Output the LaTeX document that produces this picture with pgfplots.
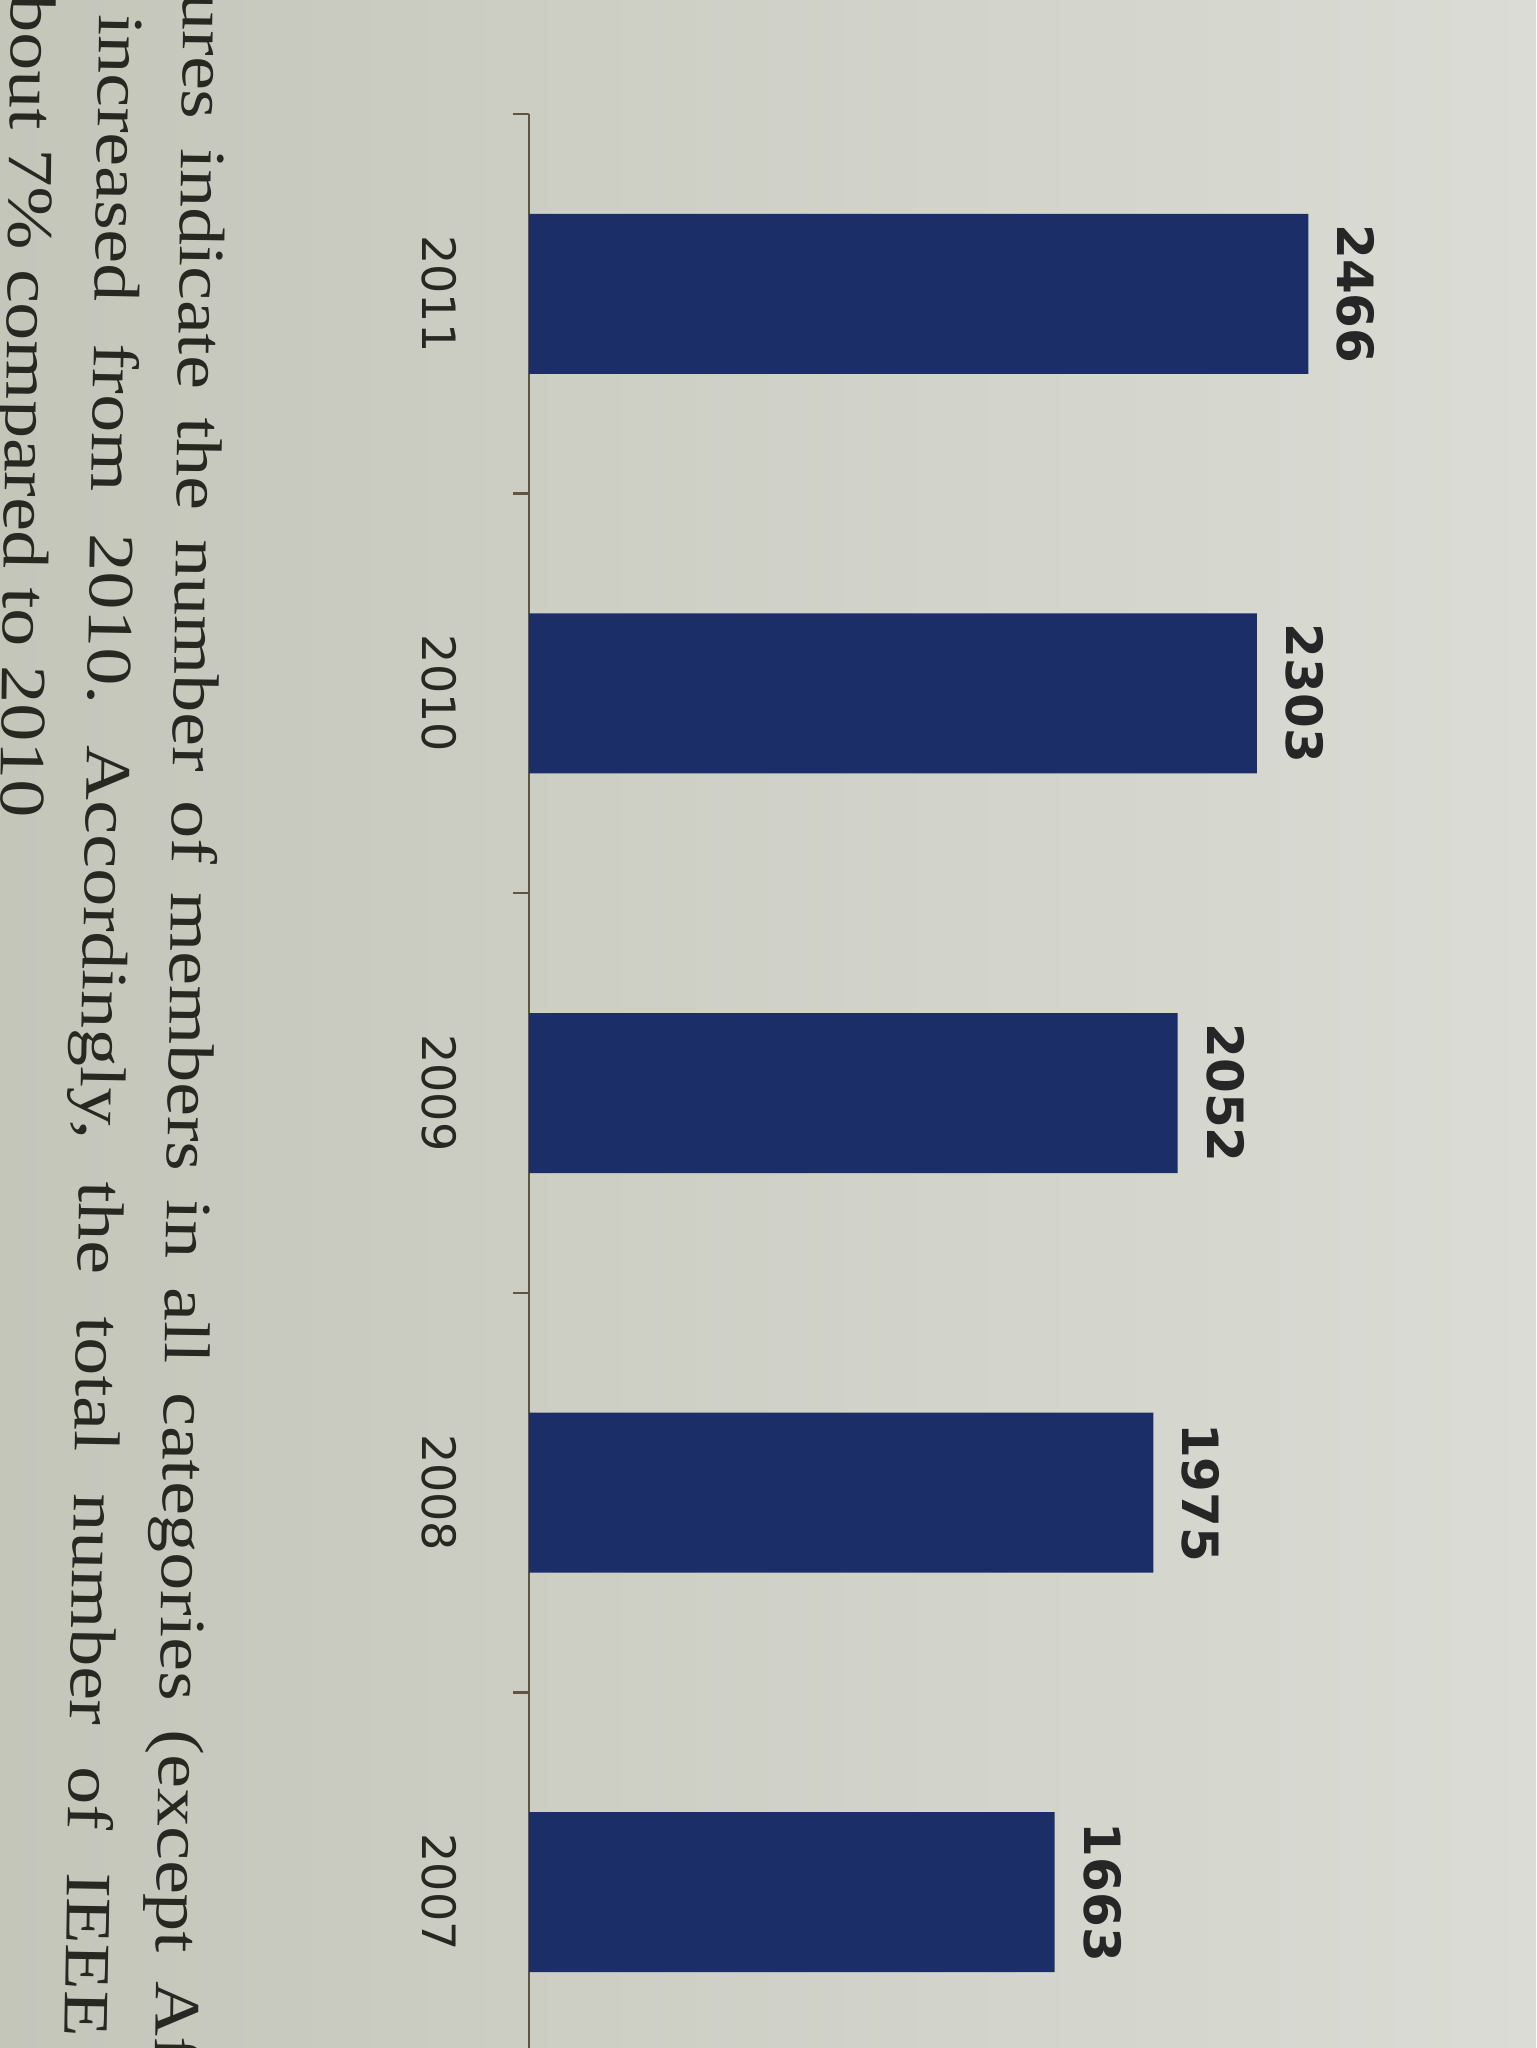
\documentclass[border=0pt]{standalone}
\usepackage{fontspec}
\setmainfont{Liberation Serif}
\newfontfamily\labelfont{DejaVu Sans}
\usepackage{pgfplots}
\pgfplotsset{compat=1.18}

\definecolor{paperL}{RGB}{197,198,186}
\definecolor{paperR}{RGB}{218,220,213}
\definecolor{barblue}{RGB}{28,46,104}
\definecolor{ink}{RGB}{40,40,34}
\definecolor{axisline}{RGB}{95,85,65}

\begin{document}
\frenchspacing
\begin{tikzpicture}
\useasboundingbox (0,0) rectangle (384pt,512pt);
\clip (0,0) rectangle (384pt,512pt);
\shade[left color=paperL, right color=paperR] (0,0) rectangle (384pt,512pt);

\begin{axis}[
  at={(132.3pt,483.5pt)}, anchor=north west,
  scale only axis, width=237pt, height=499.5pt,
  xmin=0, xmax=3000, ymin=-0.55, ymax=4.45,
  xbar, bar width=40pt,
  axis x line=none, axis y line*=left,
  axis line style={draw=axisline, line width=0.6pt},
  ytick={0,1,2,3,4},
  yticklabels={2007,2008,2009,2010,2011},
  minor ytick={-0.5,0.5,1.5,2.5,3.5,4.45},
  major tick length=0pt, minor tick length=4pt, tick align=outside,
  minor tick style={draw=axisline, line width=0.6pt},
  yticklabel style={rotate=-90, anchor=north, inner xsep=0pt, inner ysep=18pt,
    font=\labelfont\fontsize{11.5}{14}\selectfont, text=ink},
  point meta=x,
  nodes near coords={\pgfmathprintnumber[1000 sep={},assume math mode=true]{\pgfplotspointmeta}},
  every node near coord/.append style={rotate=-90, anchor=south, inner xsep=0pt, inner ysep=7pt,
    font=\labelfont\bfseries\fontsize{12.5}{15}\selectfont, text=black!85},
  clip=false,
]
\addplot[xbar, fill=barblue, draw=none] coordinates {
  (1663,0) (1975,1) (2052,2) (2303,3) (2466,4)};
\end{axis}

% page text beside the chart, photographed sideways
\node[rotate=-90.8, yscale=0.85, anchor=base west, inner sep=0pt, text=ink, font=\fontsize{19}{21.5}\selectfont]
  at (46pt,514pt) {\makebox[511pt][s]{ures indicate the number of members in all categories (except A}ffiliate};
\node[rotate=-91, yscale=0.85, anchor=base west, inner sep=0pt, text=ink, font=\fontsize{19}{21.5}\selectfont]
  at (25pt,508.5pt) {\makebox[505.5pt][s]{increased from 2010. Accordingly, the total number of IEEE}};
\node[rotate=-90.8, yscale=0.85, anchor=base west, inner sep=0pt, text=ink, font=\fontsize{19}{21.5}\selectfont]
  at (3pt,513.5pt) {bout 7\% compared to 2010};
\end{tikzpicture}
\end{document}
